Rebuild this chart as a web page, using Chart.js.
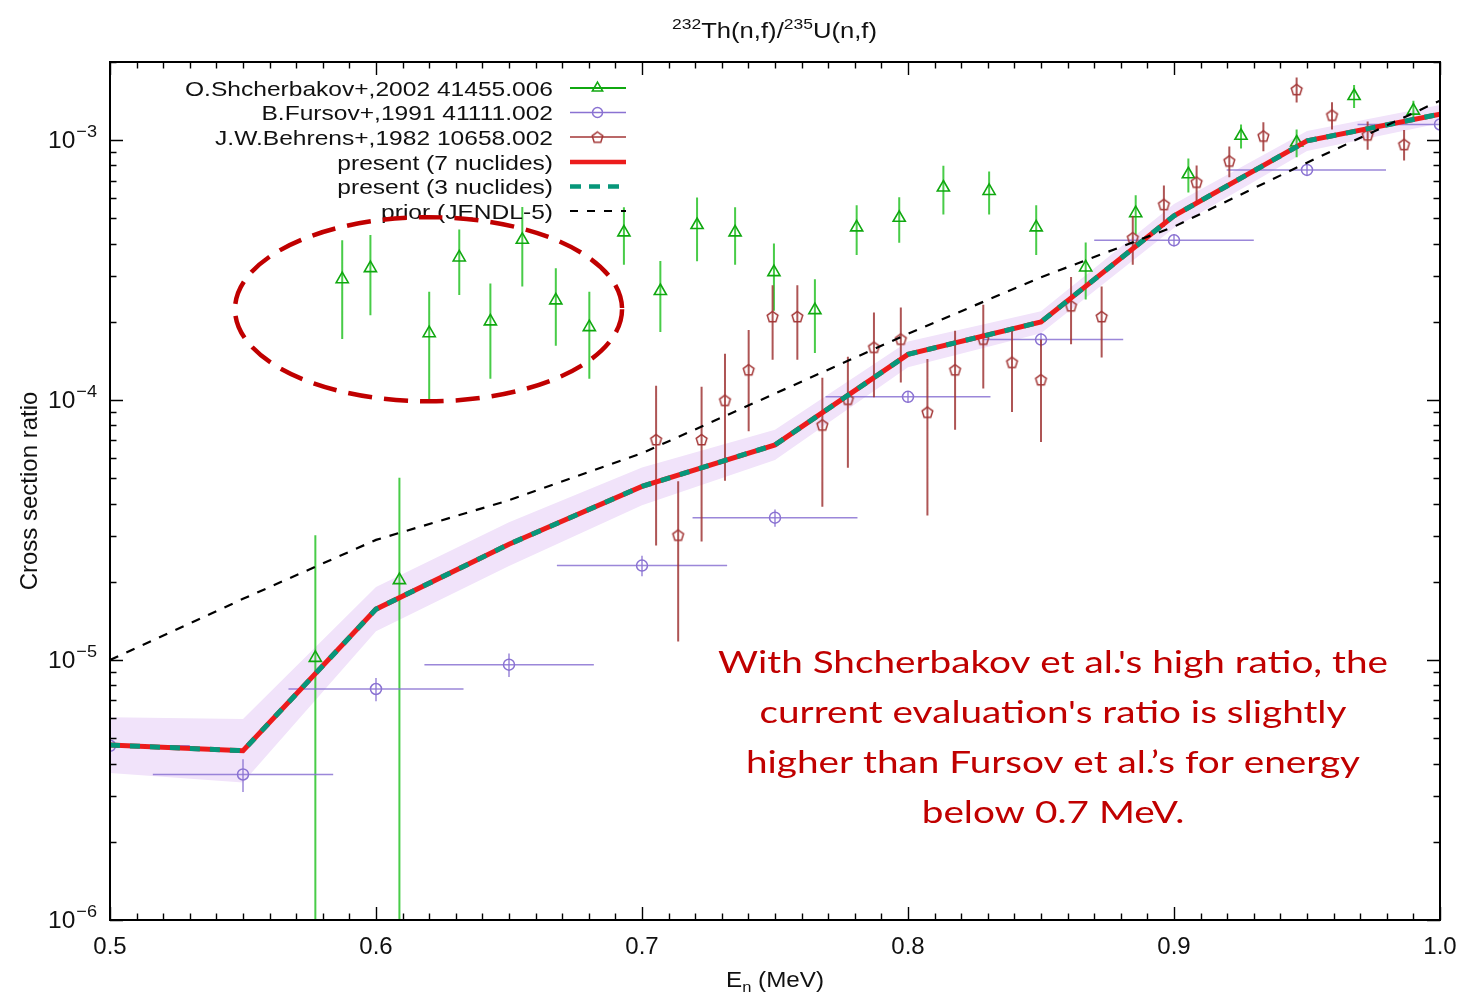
<!DOCTYPE html>
<html>
<head>
<meta charset="utf-8">
<title>232Th(n,f)/235U(n,f)</title>
<script src="https://cdn.jsdelivr.net/npm/chart.js@4.4.1/dist/chart.umd.min.js"></script>
<style>
html,body{margin:0;padding:0;background:#ffffff;overflow:hidden;}
#box{position:relative;width:1461px;height:996px;}
canvas{display:block;}
</style>
</head>
<body>
<div id="box"><canvas id="chart" width="1461" height="996"></canvas></div>
<script>
// ---------------- data ----------------
const gridEnergy   = [0.50, 0.55, 0.60, 0.65, 0.70, 0.75, 0.80, 0.85, 0.90, 0.95, 1.00];
const present7     = [4.71e-6, 4.48e-6, 1.57e-5, 2.79e-5, 4.66e-5, 6.73e-5, 1.50e-4, 2.00e-4, 5.12e-4, 9.94e-4, 1.26e-3];
const present3     = [4.71e-6, 4.48e-6, 1.57e-5, 2.79e-5, 4.66e-5, 6.73e-5, 1.50e-4, 2.00e-4, 5.12e-4, 9.94e-4, 1.26e-3];
const presentUpper = [6.03e-6, 5.94e-6, 1.91e-5, 3.39e-5, 5.51e-5, 7.69e-5, 1.68e-4, 2.20e-4, 5.69e-4, 1.086e-3, 1.365e-3];
const presentLower = [3.68e-6, 3.38e-6, 1.29e-5, 2.30e-5, 3.94e-5, 5.89e-5, 1.34e-4, 1.81e-4, 4.60e-4, 9.09e-4, 1.163e-3];
const priorJendl5  = [1.0e-5, 1.72e-5, 2.90e-5, 4.12e-5, 6.25e-5, 1.06e-4, 1.80e-4, 2.97e-4, 4.65e-4, 8.2e-4, 1.42e-3];

const shchEnergy = [0.5772,0.5873,0.5979,0.6088,0.6200,0.6313,0.6430,0.6550,0.6676,0.6802,0.6932,0.7069,0.7207,0.7350,0.7496,0.7650,0.7807,0.7967,0.8133,0.8305,0.8482,0.8668,0.8856,0.9054,0.9252,0.9461,0.9677,0.9900];
const shchRatio  = [1.02e-5,2.92e-4,3.22e-4,2.03e-5,1.81e-4,3.54e-4,2.01e-4,4.14e-4,2.42e-4,1.91e-4,4.42e-4,2.63e-4,4.72e-4,4.42e-4,3.11e-4,2.22e-4,4.62e-4,5.03e-4,6.58e-4,6.38e-4,4.62e-4,3.24e-4,5.24e-4,7.40e-4,1.04e-3,9.80e-4,1.48e-3,1.30e-3];
const shchError  = [2.0e-5,1.2e-4,1.1e-4,3.0e-5,0.8e-4,1.0e-4,0.8e-4,1.4e-4,0.8e-4,0.7e-4,1.1e-4,0.8e-4,1.3e-4,1.1e-4,0.9e-4,0.7e-4,1.0e-4,1.0e-4,1.4e-4,1.2e-4,1.0e-4,0.8e-4,0.9e-4,1.1e-4,1.1e-4,1.2e-4,1.5e-4,1.2e-4];

const fursEnergy = [0.50,0.55,0.60,0.65,0.70,0.75,0.80,0.85,0.90,0.95,1.00];
const fursRatio  = [4.68e-6,3.63e-6,7.74e-6,9.6e-6,2.31e-5,3.53e-5,1.03e-4,1.71e-4,4.12e-4,7.69e-4,1.15e-3];
const fursError  = [0.4e-6,0.52e-6,0.8e-6,1.0e-6,2.1e-6,2.7e-6,5e-6,1.0e-5,2.2e-5,3.6e-5,4.0e-5];
const fursELow   = [0.470,0.5161,0.5671,0.6182,0.668,0.719,0.769,0.8283,0.870,0.9198,0.969];
const fursEHigh  = [0.530,0.5839,0.6329,0.6819,0.732,0.781,0.831,0.8809,0.930,0.9797,1.031];

const behrEnergy = [0.7053,0.7136,0.7224,0.7312,0.7401,0.7491,0.7584,0.7678,0.7774,0.7872,0.7973,0.8073,0.8177,0.8283,0.8391,0.8500,0.8613,0.8728,0.8845,0.8962,0.9085,0.9208,0.9336,0.9461,0.9594,0.9728,0.9865];
const behrRatio  = [7.06e-5,3.03e-5,7.06e-5,1.00e-4,1.31e-4,2.10e-4,2.10e-4,8.04e-5,1.01e-4,1.60e-4,1.72e-4,9.0e-5,1.31e-4,1.72e-4,1.40e-4,1.20e-4,2.31e-4,2.10e-4,4.22e-4,5.67e-4,6.91e-4,8.33e-4,1.04e-3,1.57e-3,1.25e-3,1.05e-3,9.65e-4];
const behrError  = [4.3e-5,1.85e-5,4.2e-5,5.1e-5,5.5e-5,6.7e-5,6.7e-5,4.15e-5,4.6e-5,5.75e-5,5.5e-5,5.4e-5,5.4e-5,6.1e-5,5.0e-5,5.1e-5,6.7e-5,6.4e-5,9.0e-5,1.02e-4,1.09e-4,1.13e-4,1.33e-4,1.72e-4,1.5e-4,1.3e-4,1.3e-4];

const seriesLabels = [
  "O.Shcherbakov+,2002 41455.006",
  "B.Fursov+,1991 41111.002",
  "J.W.Behrens+,1982 10658.002",
  "present (7 nuclides)",
  "present (3 nuclides)",
  "prior (JENDL-5)"
];

const xTickValues = [0.5, 0.6, 0.7, 0.8, 0.9, 1.0];
const xTickLabels = ["0.5", "0.6", "0.7", "0.8", "0.9", "1.0"];
const yTickValues = [1e-6, 1e-5, 1e-4, 1e-3];
const yTickExponents = ["\u22126", "\u22125", "\u22124", "\u22123"];

const titleParts = [["232", true], ["Th(n,f)/", false], ["235", true], ["U(n,f)", false]];
const xAxisTitle = ["E", "n", " (MeV)"];
const yAxisTitle = "Cross section ratio";

const noteLines = [
  "With Shcherbakov et al.'s high ratio, the",
  "current evaluation's ratio is slightly",
  "higher than Fursov et al.\u2019s for energy",
  "below 0.7 MeV."
];
// highlighted region (data coordinates) for the dashed ellipse
const noteEllipseE = [0.547, 0.6925];
const noteEllipseR = [9.9e-5, 5.06e-4];

// ---------------- styles ----------------
const C_GREEN = '#10a810', C_GREEN_BAR = 'rgba(40,195,40,0.85)';
const C_PURPLE = '#8a72d2', C_PURPLE_BAR = 'rgba(138,114,210,0.85)';
const C_BROWN = '#a33636', C_BROWN_BAR = 'rgba(160,55,55,0.85)';
const C_RED = '#ec1c1c', C_TEAL = '#07977a', C_BAND = '#f1e3fa';
const C_NOTE = '#c00000';
const FONT = '"Liberation Sans", "DejaVu Sans", Arial, sans-serif';
const CLIP_LOW = 1e-8;

function makePentagon(color, r, lw) {
  const s = Math.ceil(2 * r + lw * 2 + 2);
  const c = document.createElement('canvas');
  c.width = s; c.height = s;
  const g = c.getContext('2d');
  g.strokeStyle = color; g.lineWidth = lw;
  g.beginPath();
  for (let i = 0; i < 5; i++) {
    const a = -Math.PI / 2 + i * 2 * Math.PI / 5;
    const px = s / 2 + r * Math.cos(a), py = s / 2 + 0.6 + r * Math.sin(a);
    if (i) g.lineTo(px, py); else g.moveTo(px, py);
  }
  g.closePath(); g.stroke();
  return c;
}
const pentagonImg = makePentagon(C_BROWN, 5.6, 1.5);

const toPts = (xs, ys) => xs.map((x, i) => ({ x: x, y: ys[i] }));
function vBars(xs, ys, errs) {
  const out = [];
  xs.forEach((x, i) => {
    const lo = ys[i] - errs[i];
    out.push({ x: x, y: lo > 0 ? lo : CLIP_LOW }, { x: x, y: ys[i] + errs[i] }, { x: x, y: null });
  });
  return out;
}
function hBars(xl, xh, ys) {
  const out = [];
  ys.forEach((y, i) => { out.push({ x: xl[i], y: y }, { x: xh[i], y: y }, { x: xh[i], y: null }); });
  return out;
}

const lineBase = { pointRadius: 0, pointHoverRadius: 0, tension: 0, spanGaps: false, fill: false };

const datasets = [
  Object.assign({}, lineBase, { label: 'band upper', data: toPts(gridEnergy, presentUpper), borderColor: 'rgba(0,0,0,0)', borderWidth: 0, backgroundColor: C_BAND, fill: '+1', order: 20 }),
  Object.assign({}, lineBase, { label: 'band lower', data: toPts(gridEnergy, presentLower), borderColor: 'rgba(0,0,0,0)', borderWidth: 0, order: 21 }),
  Object.assign({}, lineBase, { label: seriesLabels[0] + ' err', data: vBars(shchEnergy, shchRatio, shchError), borderColor: C_GREEN_BAR, borderWidth: 2, order: 12 }),
  { label: seriesLabels[0], data: toPts(shchEnergy, shchRatio), showLine: false, pointStyle: 'triangle', pointRadius: 7, pointBorderWidth: 1.6, pointBorderColor: C_GREEN, pointBackgroundColor: 'rgba(0,0,0,0)', order: 11 },
  Object.assign({}, lineBase, { label: seriesLabels[1] + ' xerr', data: hBars(fursELow, fursEHigh, fursRatio), borderColor: C_PURPLE_BAR, borderWidth: 1.5, order: 10 }),
  Object.assign({}, lineBase, { label: seriesLabels[1] + ' err', data: vBars(fursEnergy, fursRatio, fursError), borderColor: C_PURPLE_BAR, borderWidth: 1.5, order: 9 }),
  { label: seriesLabels[1], data: toPts(fursEnergy, fursRatio), showLine: false, pointStyle: 'circle', pointRadius: 5.5, pointBorderWidth: 1.5, pointBorderColor: C_PURPLE, pointBackgroundColor: 'rgba(0,0,0,0)', order: 8 },
  Object.assign({}, lineBase, { label: seriesLabels[2] + ' err', data: vBars(behrEnergy, behrRatio, behrError), borderColor: C_BROWN_BAR, borderWidth: 2, order: 7 }),
  { label: seriesLabels[2], data: toPts(behrEnergy, behrRatio), showLine: false, pointStyle: pentagonImg, pointRadius: 6, order: 6 },
  Object.assign({}, lineBase, { label: seriesLabels[3], data: toPts(gridEnergy, present7), borderColor: C_RED, borderWidth: 5, order: 3 }),
  Object.assign({}, lineBase, { label: seriesLabels[4], data: toPts(gridEnergy, present3), borderColor: C_TEAL, borderWidth: 5, borderDash: [10, 10], order: 2 }),
  Object.assign({}, lineBase, { label: seriesLabels[5], data: toPts(gridEnergy, priorJendl5), borderColor: '#000000', borderWidth: 2.2, borderDash: [9, 9], order: 1 })
];

const legendEntries = [
  { label: seriesLabels[0], kind: 'marker', color: C_GREEN, lw: 2, style: 'triangle', r: 6 },
  { label: seriesLabels[1], kind: 'marker', color: C_PURPLE, lw: 1.5, style: 'circle', r: 5 },
  { label: seriesLabels[2], kind: 'marker', color: C_BROWN, lw: 1.5, style: pentagonImg, r: 5 },
  { label: seriesLabels[3], kind: 'line', color: C_RED, lw: 4.5, dash: [] },
  { label: seriesLabels[4], kind: 'line', color: C_TEAL, lw: 4.5, dash: [11, 8] },
  { label: seriesLabels[5], kind: 'line', color: '#000000', lw: 2, dash: [8, 9] }
];

function scaledText(ctx, text, x, y, font, sx, align) {
  ctx.save();
  ctx.font = font;
  ctx.textAlign = 'left';
  const w = ctx.measureText(text).width * sx;
  let x0 = x;
  if (align === 'right') x0 = x - w; else if (align === 'center') x0 = x - w / 2;
  ctx.translate(x0, y); ctx.scale(sx, 1); ctx.fillText(text, 0, 0);
  ctx.restore();
  return w;
}

const decorPlugin = {
  id: 'decor',
  afterDatasetsDraw(chart) {
    const ctx = chart.ctx, a = chart.chartArea, xs = chart.scales.x, ys = chart.scales.y;
    ctx.save();
    // ticks (inward, mirrored)
    ctx.strokeStyle = '#000'; ctx.lineWidth = 1.4;
    ctx.beginPath();
    for (let k = 50; k <= 100; k++) {
      const px = Math.round(xs.getPixelForValue(k / 100)) + 0.5;
      const L = (k % 10 === 0) ? 13 : 6.5;
      ctx.moveTo(px, a.bottom); ctx.lineTo(px, a.bottom - L);
      ctx.moveTo(px, a.top); ctx.lineTo(px, a.top + L);
    }
    for (let e = -6; e <= -3; e++) {
      for (let m = 1; m <= 9; m++) {
        const v = m * Math.pow(10, e);
        if (v < ys.min * 0.999 || v > ys.max * 1.001) continue;
        const py = Math.round(ys.getPixelForValue(v)) + 0.5;
        const L = (m === 1) ? 13 : 6.5;
        ctx.moveTo(a.left, py); ctx.lineTo(a.left + L, py);
        ctx.moveTo(a.right, py); ctx.lineTo(a.right - L, py);
      }
    }
    ctx.stroke();
    // frame
    ctx.lineWidth = 2;
    ctx.strokeRect(a.left, a.top, a.right - a.left, a.bottom - a.top);

    ctx.fillStyle = '#111';
    ctx.textBaseline = 'alphabetic';
    // y tick labels 10^n
    yTickValues.forEach((v, i) => {
      const py = ys.getPixelForValue(v);
      const f10 = '23px ' + FONT, fex = '17px ' + FONT;
      ctx.font = f10;
      const w10 = ctx.measureText('10').width;
      ctx.font = fex;
      const wex = ctx.measureText(yTickExponents[i]).width;
      const sx = 49 / (w10 + wex + 1);
      const x0 = 97 - 49;
      scaledText(ctx, '10', x0, py + 8, f10, sx, 'left');
      scaledText(ctx, yTickExponents[i], x0 + (w10 + 1) * sx, py - 3, fex, sx, 'left');
    });

    // y axis title
    ctx.save();
    ctx.translate(37, (a.top + a.bottom) / 2);
    ctx.rotate(-Math.PI / 2);
    ctx.font = '24px ' + FONT; ctx.textAlign = 'center';
    ctx.fillText(yAxisTitle, 0, 0);
    ctx.restore();

    // x axis title E_n (MeV)
    {
      const fBig = '22px ' + FONT, fSub = '15px ' + FONT;
      ctx.font = fBig; const w1 = ctx.measureText(xAxisTitle[0]).width, w3 = ctx.measureText(xAxisTitle[2]).width;
      ctx.font = fSub; const w2 = ctx.measureText(xAxisTitle[1]).width;
      const sx = 1.1, tot = (w1 + w2 + w3) * sx;
      let x0 = (a.left + a.right) / 2 - tot / 2;
      x0 += scaledText(ctx, xAxisTitle[0], x0, 987, fBig, sx, 'left');
      x0 += scaledText(ctx, xAxisTitle[1], x0, 992, fSub, sx, 'left');
      scaledText(ctx, xAxisTitle[2], x0, 987, fBig, sx, 'left');
    }

    // title with superscripts
    {
      const fBig = '22px ' + FONT, fSup = '15px ' + FONT;
      let tot = 0;
      titleParts.forEach(p => { ctx.font = p[1] ? fSup : fBig; tot += ctx.measureText(p[0]).width; });
      const sx = 205 / tot;
      let x0 = 774.5 - 205 / 2;
      titleParts.forEach(p => { x0 += scaledText(ctx, p[0], x0, p[1] ? 29 : 38, p[1] ? fSup : fBig, sx, 'left'); });
    }

    // legend
    {
      const fL = '21px ' + FONT;
      ctx.font = fL;
      const sx = 368 / ctx.measureText(legendEntries[0].label).width;
      const rowY = [88, 112.5, 137, 162, 186.5, 211];
      legendEntries.forEach((en, i) => {
        const y = rowY[i];
        ctx.fillStyle = '#111';
        scaledText(ctx, en.label, 553, y + 7.5, fL, sx, 'right');
        ctx.save();
        ctx.strokeStyle = en.color; ctx.lineWidth = en.lw;
        ctx.setLineDash(en.dash || []);
        ctx.beginPath(); ctx.moveTo(570, y); ctx.lineTo(626, y); ctx.stroke();
        ctx.setLineDash([]);
        if (en.kind === 'marker') {
          ctx.fillStyle = 'rgba(0,0,0,0)'; ctx.lineWidth = 1.5;
          Chart.helpers.drawPoint(ctx, { pointStyle: en.style, radius: en.r, borderWidth: 1.5, rotation: 0 }, 597.5, y);
        }
        ctx.restore();
      });
    }

    // dashed ellipse annotation
    {
      const x1 = xs.getPixelForValue(noteEllipseE[0]), x2 = xs.getPixelForValue(noteEllipseE[1]);
      const y1 = ys.getPixelForValue(noteEllipseR[1]), y2 = ys.getPixelForValue(noteEllipseR[0]);
      ctx.save();
      ctx.strokeStyle = C_NOTE; ctx.lineWidth = 4.5; ctx.setLineDash([24, 12]);
      ctx.beginPath();
      ctx.ellipse((x1 + x2) / 2, (y1 + y2) / 2, (x2 - x1) / 2, (y2 - y1) / 2, 0, 0, Math.PI * 2);
      ctx.stroke();
      ctx.restore();
    }

    // note text
    {
      const fN = '31px Lato, "Open Sans", sans-serif';
      ctx.font = fN;
      const sx = 670 / ctx.measureText(noteLines[0]).width;
      ctx.fillStyle = C_NOTE;
      const base = [673, 723, 773, 823];
      noteLines.forEach((t, i) => scaledText(ctx, t, 1053, base[i], fN, sx, 'center'));
    }
    ctx.restore();
  }
};

new Chart(document.getElementById('chart'), {
  type: 'line',
  data: { datasets: datasets },
  options: {
    responsive: false,
    animation: false,
    events: [],
    layout: { padding: { left: 0, right: 21, top: 62, bottom: 0 } },
    plugins: { legend: { display: false }, tooltip: { enabled: false }, title: { display: false } },
    scales: {
      x: {
        type: 'linear', min: 0.5, max: 1.0,
        afterBuildTicks: s => { s.ticks = xTickValues.map(v => ({ value: v })); },
        afterFit: s => { s.height = 76; s.paddingLeft = 0; s.paddingRight = 0; },
        grid: { display: false, drawTicks: false },
        border: { display: false },
        ticks: {
          autoSkip: false, maxRotation: 0, padding: 13, color: '#111',
          font: { family: 'Liberation Sans', size: 24 },
          callback: (v, i) => xTickLabels[i]
        }
      },
      y: {
        type: 'logarithmic', min: 1e-6, max: 2e-3,
        afterFit: s => { s.width = 110; s.paddingTop = 0; s.paddingBottom = 0; },
        grid: { display: false, drawTicks: false },
        border: { display: false },
        ticks: { display: false }
      }
    }
  },
  plugins: [decorPlugin]
});
</script>
</body>
</html>
